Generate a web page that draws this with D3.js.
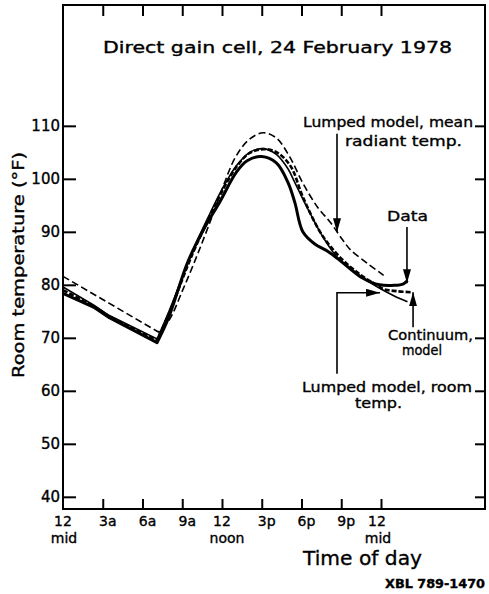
<!DOCTYPE html>
<html>
<head>
<meta charset="utf-8">
<script src="https://cdn.jsdelivr.net/npm/d3@7"></script>
<style>
  html, body { margin: 0; padding: 0; background: #fff; }
  svg { display: block; }
  text { font-family: "DejaVu Sans", "Liberation Sans", sans-serif; fill: #000; stroke: #000; stroke-width: 0.35px; }
</style>
</head>
<body>
<svg id="chart" width="489" height="594"></svg>
<script>
// ---------- data ----------
const xTickHours = [0, 3, 6, 9, 12, 15, 18, 21, 24];
const xTickLabels = ["12", "3a", "6a", "9a", "12", "3p", "6p", "9p", "12"];
const xTickSubLabels = ["mid", "", "", "", "noon", "", "", "", "mid"];
const yTickValues = [40, 50, 60, 70, 80, 90, 100, 110];

// Data (measured room temperature)
const dataHours = [0, 2.3, 3.5, 7.1, 8.0, 9.4, 10.6, 11.8, 13.1, 13.9, 15.0, 16.1, 17.0, 17.5, 18.1, 19.0, 20.0, 20.7, 21.4, 22.6, 23.9, 25.0, 25.7, 26.0];
const dataTemps = [78.4, 75.8, 73.8, 69.1, 74.0, 84.2, 90.4, 95.5, 101.3, 103.4, 104.2, 103.0, 99.2, 95.5, 90.0, 87.7, 86.3, 85.0, 83.6, 81.3, 80.0, 79.9, 80.2, 80.8];

// Lumped model, room temperature (thin solid)
const lumpedRoomHours = [0, 2.3, 3.5, 7.1, 8.0, 9.8, 11.1, 12.0, 13.1, 14.1, 15.1, 16.1, 17.0, 17.4, 18.4, 19.6, 20.8, 22.0, 23.0, 24.0, 25.0, 26.0];
const lumpedRoomTemps = [79.6, 76.2, 74.2, 69.8, 75.0, 86.5, 93.5, 98.0, 102.5, 105.0, 105.7, 104.6, 101.8, 99.8, 94.7, 89.1, 84.9, 82.4, 80.7, 79.2, 77.9, 76.8];

// Continuum model (heavy dashed)
const continuumHours = [0, 2.3, 3.5, 7.1, 8.0, 9.8, 11.1, 12.0, 13.1, 14.1, 15.2, 16.2, 17.2, 18.1, 19.4, 20.5, 21.5, 22.5, 23.5, 24.2, 25.2, 26.3];
const continuumTemps = [79.0, 76.0, 74.0, 69.5, 74.6, 86.0, 93.0, 97.6, 102.3, 104.9, 105.6, 104.9, 102.3, 96.6, 90.0, 86.3, 83.8, 81.8, 80.2, 79.2, 78.8, 78.6];

// Lumped model, mean radiant temperature (thin dashed)
const meanRadiantHours = [0, 3.5, 7.2, 8.0, 9.0, 10.0, 11.0, 12.0, 13.0, 14.0, 15.1, 16.1, 17.1, 18.1, 19.2, 20.2, 21.1, 21.7, 23.0, 24.2];
const meanRadiantTemps = [81.6, 76.5, 71.1, 73.3, 78.8, 84.8, 91.2, 98.0, 104.0, 107.3, 108.7, 107.7, 104.2, 99.2, 94.7, 91.7, 88.5, 86.6, 84.0, 81.8];

(function () {
// ---------- layout ----------
const svg = d3.select("#chart");
const mLeft = 63, mRight = 485, mTop = 5, mBottom = 509;

const x = d3.scaleLinear().domain([0, 31.85]).range([mLeft, mRight]);
const y = d3.scaleLinear().domain([37.7, 132.8]).range([mBottom, mTop]);

// frame
svg.append("rect")
  .attr("x", x(0)).attr("y", y(132.8))
  .attr("width", x(31.85) - x(0)).attr("height", y(37.7) - y(132.8))
  .attr("fill", "none").attr("stroke", "#000").attr("stroke-width", 2);

function styleAxis(g, fontSize) {
  g.select(".domain").remove();
  g.selectAll(".tick line").attr("stroke", "#000").attr("stroke-width", 2);
  g.selectAll(".tick text").attr("font-size", fontSize).attr("font-family", "DejaVu Sans").attr("fill", "#000");
}

// left axis
svg.append("g").attr("transform", `translate(${mLeft},0)`)
  .call(d3.axisLeft(y).tickValues(yTickValues).tickSizeInner(-13).tickSizeOuter(0).tickPadding(3))
  .call(g => styleAxis(g, 15));

// right axis ticks
svg.append("g").attr("transform", `translate(${mRight},0)`)
  .call(d3.axisRight(y).tickValues(yTickValues).tickSizeInner(-10).tickSizeOuter(0).tickFormat(""))
  .call(g => styleAxis(g, 15));

// top ticks
svg.append("g").attr("transform", `translate(0,${mTop})`)
  .call(d3.axisTop(x).tickValues(xTickHours.slice(1)).tickSizeInner(-11).tickSizeOuter(0).tickFormat(""))
  .call(g => styleAxis(g, 15));

// bottom ticks
svg.append("g").attr("transform", `translate(0,${mBottom})`)
  .call(d3.axisBottom(x).tickValues(xTickHours.slice(1)).tickSizeInner(-10).tickSizeOuter(0).tickFormat(""))
  .call(g => styleAxis(g, 15));

// bottom tick labels (two rows)
const xl = svg.append("g");
xTickHours.forEach((h, i) => {
  const lab = xTickLabels[i];
  const last = i === xTickHours.length - 1;
  const shift = /[ap]$/.test(lab) ? 5 : (last ? -4 : 0);
  xl.append("text").attr("x", x(h) + shift).attr("y", 526)
    .attr("text-anchor", "middle").attr("font-size", 14).text(lab);
  if (xTickSubLabels[i]) {
    xl.append("text").attr("x", x(h) + (last ? -3 : (i === 4 ? 5 : 1))).attr("y", 543)
      .attr("text-anchor", "middle").attr("font-size", 14).text(xTickSubLabels[i]);
  }
});

// axis titles
svg.append("text").attr("x", 303).attr("y", 565).attr("font-size", 20)
  .attr("textLength", 119).attr("lengthAdjust", "spacingAndGlyphs").text("Time of day");
svg.append("text").attr("transform", "translate(24,378) rotate(-90)")
  .attr("font-size", 16).attr("textLength", 226).attr("lengthAdjust", "spacingAndGlyphs")
  .text("Room temperature (°F)");

// title
svg.append("text").attr("x", 103).attr("y", 53).attr("font-size", 15)
  .attr("textLength", 349).attr("lengthAdjust", "spacingAndGlyphs")
  .text("Direct gain cell, 24 February 1978");

// credit
svg.append("text").attr("x", 385).attr("y", 588).attr("font-size", 12).attr("font-weight", "bold")
  .attr("textLength", 100).attr("lengthAdjust", "spacingAndGlyphs").text("XBL 789-1470");

// ---------- series ----------
const zip = (hs, ts) => hs.map((h, i) => [h, ts[i]]);
const straight = d3.line().x(d => x(d[0])).y(d => y(d[1]));
const smooth = d3.line().x(d => x(d[0])).y(d => y(d[1])).curve(d3.curveCatmullRom.alpha(0.5));
// night cooling is drawn straight to the morning minimum, the rest smoothly
function pathFor(hs, ts) {
  const pts = zip(hs, ts);
  let iMin = 0;
  pts.forEach((p, i) => { if (p[0] < 10 && p[1] < pts[iMin][1]) iMin = i; });
  const a = straight(pts.slice(0, iMin + 1));
  const b = smooth(pts.slice(iMin)).replace(/^M[^CLM]*/, "");
  return a + b;
}

svg.append("path").attr("d", pathFor(meanRadiantHours, meanRadiantTemps))
  .attr("fill", "none").attr("stroke", "#000")
  .attr("stroke-width", 1.6).attr("stroke-dasharray", "7,3.5");

svg.append("path").attr("d", pathFor(lumpedRoomHours, lumpedRoomTemps))
  .attr("fill", "none").attr("stroke", "#000").attr("stroke-width", 1.6);

svg.append("path").attr("d", pathFor(continuumHours, continuumTemps))
  .attr("fill", "none").attr("stroke", "#000")
  .attr("stroke-width", 2.6).attr("stroke-dasharray", "5,2");

svg.append("path").attr("d", pathFor(dataHours, dataTemps))
  .attr("fill", "none").attr("stroke", "#000").attr("stroke-width", 3)
  .attr("stroke-linejoin", "round");

// ---------- annotations ----------
svg.append("defs").append("marker")
  .attr("id", "arrow").attr("viewBox", "0 0 14 8").attr("refX", 14).attr("refY", 4)
  .attr("markerWidth", 14).attr("markerHeight", 8).attr("markerUnits", "userSpaceOnUse")
  .attr("orient", "auto")
  .append("path").attr("d", "M0,0 L14,4 L0,8 Z").attr("fill", "#000");

function arrow(points) {
  svg.append("path")
    .attr("d", d3.line()(points.map(p => [x(p[0]), y(p[1])])))
    .attr("fill", "none").attr("stroke", "#000").attr("stroke-width", 1.6)
    .attr("marker-end", "url(#arrow)");
}
arrow([[20.68, 108.5], [20.68, 89.9]]);            // mean radiant
arrow([[25.96, 90.9], [25.96, 80.3]]);             // data
arrow([[26.42, 72.0], [26.42, 78.6]]);             // continuum
arrow([[20.68, 63.2], [20.68, 78.5], [23.93, 78.5]]); // lumped room

function label(txt, xx, yy, len, anchor) {
  const t = svg.append("text").attr("x", xx).attr("y", yy).attr("font-size", 14).text(txt);
  if (len) t.attr("textLength", len).attr("lengthAdjust", "spacingAndGlyphs");
  if (anchor) t.attr("text-anchor", anchor);
}
label("Lumped model, mean", 303, 127, 170);
label("radiant temp.", 345, 146, 117);
label("Data", 387, 221, 41);
label("Continuum,", 388, 340, 85);
label("model", 402, 355, 40);
label("Lumped model, room", 302, 392, 170);
label("temp.", 355, 408, 47);
})();
</script>
</body>
</html>
